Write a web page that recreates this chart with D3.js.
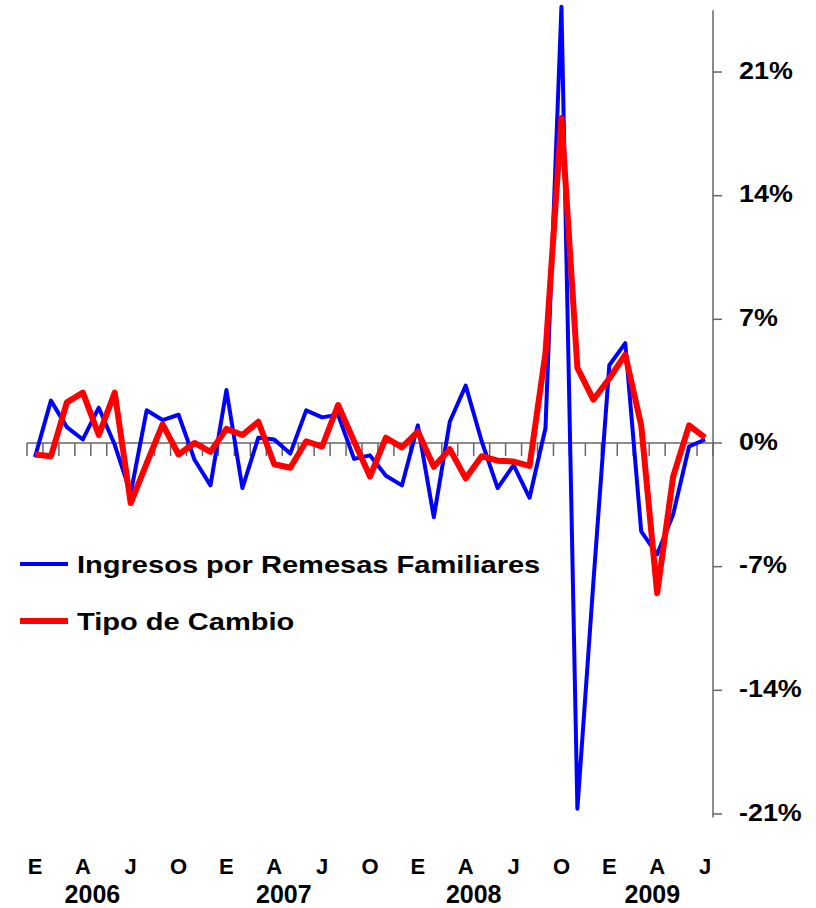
<!DOCTYPE html>
<html>
<head>
<meta charset="utf-8">
<script src="https://cdn.jsdelivr.net/npm/d3@7"></script>
<style>
  body { margin: 0; background: #fff; }
  svg text { font-family: "Liberation Sans", Arial, sans-serif; font-weight: bold; fill: #000; }
</style>
</head>
<body>
<svg id="chart" width="816" height="908"></svg>
<script>
// months Jan 2006 .. Jul 2009
const monthLetters = ["E","F","M","A","M","J","J","A","S","O","N","D"];
const years = ["2006", "2007", "2008", "2009"];
const months = [];
years.forEach(y => monthLetters.forEach((m, i) => {
  if (y !== "2009" || i < 7) months.push(m + " " + y);
}));

// Ingresos por Remesas Familiares, % var. mensual
const remesas = [
  -0.8, 2.4, 0.9, 0.2, 2.0, -0.1, -2.85, 1.85, 1.3, 1.6, -0.95, -2.4,
  3.0, -2.55, 0.3, 0.2, -0.6, 1.85, 1.45, 1.6, -0.9, -0.7, -1.85, -2.4,
  1.0, -4.2, 1.2, 3.25, 0.1, -2.55, -1.25, -3.1, 0.85, 24.7, -20.7, -7.9,
  4.4, 5.65, -5.0, -6.3, -4.05, -0.2, 0.2
];

// Tipo de Cambio, % var. mensual
const tipoCambio = [
  -0.65, -0.75, 2.3, 2.85, 0.45, 2.85, -3.4, -1.15, 1.05, -0.65, 0.0, -0.5,
  0.8, 0.45, 1.2, -1.2, -1.4, 0.1, -0.2, 2.15, 0.1, -1.9, 0.3, -0.25,
  0.65, -1.35, -0.35, -2.0, -0.75, -1.0, -1.05, -1.3, 5.1, 18.4, 4.25, 2.45,
  3.65, 5.0, 1.0, -8.5, -1.9, 1.0, 0.3
];

const yTicks = [21, 14, 7, 0, -7, -14, -21];
const yearAnchors = [3.6, 15.6, 27.5, 38.7];   // month index under each year label

const svg = d3.select("#chart");

const x = d3.scaleLinear().domain([-0.5, months.length - 0.5]).range([27, 713]);
const y = d3.scaleLinear().domain([-21.2, 24.5]).range([817.5, 10.2]);

const axisColor = "#666";

// the original font is a bit wider than Liberation Sans
function widen(sel, k) {
  sel.each(function() {
    const len = this.getComputedTextLength();
    d3.select(this).attr("textLength", len * k).attr("lengthAdjust", "spacingAndGlyphs");
  });
}

/*
 * y axis on the right
 */
svg.append("line")
  .attr("x1", x.range()[1]).attr("x2", x.range()[1])
  .attr("y1", y(24.5)).attr("y2", y(-21.2))
  .attr("stroke", axisColor).attr("stroke-width", 1.5);

svg.selectAll(".ytick")
  .data(yTicks)
  .enter().append("line")
  .attr("class", "ytick")
  .attr("x1", x.range()[1]).attr("x2", x.range()[1] + 9)
  .attr("y1", d => y(d)).attr("y2", d => y(d))
  .attr("stroke", axisColor).attr("stroke-width", 1.5);

svg.selectAll(".ylabel")
  .data(yTicks)
  .enter().append("text")
  .attr("class", "ylabel")
  .attr("x", 739)
  .attr("y", d => y(d) - 2)
  .attr("dy", "0.36em")
  .attr("font-size", 24)
  .text(d => d + "%")
  .call(widen, 1.12);

/*
 * x axis at 0%
 */
svg.append("line")
  .attr("x1", x.range()[0]).attr("x2", x.range()[1])
  .attr("y1", y(0)).attr("y2", y(0))
  .attr("stroke", axisColor).attr("stroke-width", 1.5);

svg.selectAll(".xtick")
  .data(d3.range(months.length + 1))
  .enter().append("line")
  .attr("class", "xtick")
  .attr("x1", d => x(d - 0.5)).attr("x2", d => x(d - 0.5))
  .attr("y1", y(0)).attr("y2", y(0) + 13)
  .attr("stroke", axisColor).attr("stroke-width", 1.5);

svg.selectAll(".mlabel")
  .data(months.map((m, i) => ({ m: m.split(" ")[0], i })).filter(d => d.i % 3 === 0))
  .enter().append("text")
  .attr("class", "mlabel")
  .attr("x", d => x(d.i))
  .attr("y", 874)
  .attr("text-anchor", "middle")
  .attr("font-size", 22)
  .text(d => d.m);

svg.selectAll(".year")
  .data(years)
  .enter().append("text")
  .attr("class", "year")
  .attr("x", (d, i) => x(yearAnchors[i]))
  .attr("y", 903)
  .attr("text-anchor", "middle")
  .attr("font-size", 25)
  .text(d => d);

/*
 * series
 */
const line = d3.line()
  .x((d, i) => x(i))
  .y(d => y(d));

svg.append("path")
  .datum(remesas)
  .attr("d", line)
  .attr("fill", "none")
  .attr("stroke", "#0000ff")
  .attr("stroke-width", 4)
  .attr("stroke-linejoin", "round");

svg.append("path")
  .datum(tipoCambio)
  .attr("d", line)
  .attr("fill", "none")
  .attr("stroke", "#ff0000")
  .attr("stroke-width", 6)
  .attr("stroke-linejoin", "round");

/*
 * legend
 */
const legend = [
  { name: "Ingresos por Remesas Familiares", color: "#0000ff", width: 4, y: 564 },
  { name: "Tipo de Cambio", color: "#ff0000", width: 6, y: 621 }
];

const lg = svg.selectAll(".legend")
  .data(legend)
  .enter().append("g")
  .attr("class", "legend")
  .attr("transform", d => `translate(0,${d.y})`);

lg.append("line")
  .attr("x1", 20).attr("x2", 68)
  .attr("y1", 0).attr("y2", 0)
  .attr("stroke", d => d.color)
  .attr("stroke-width", d => d.width);

lg.append("text")
  .attr("x", 77)
  .attr("y", 9)
  .attr("font-size", 24)
  .text(d => d.name)
  .call(widen, 1.21);
</script>
</body>
</html>
